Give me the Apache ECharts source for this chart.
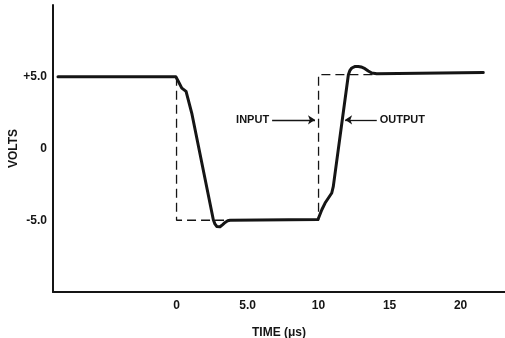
<!DOCTYPE html>
<html style="height: 100%">
<head>
<meta charset="utf-8">
<script src="https://cdn.jsdelivr.net/npm/echarts@6/dist/echarts.min.js"></script>
</head>
<body style="height: 100%; margin: 0; background: #fff;">
<div id="container" style="width: 505px; height: 338px;"></div>
<script type="text/javascript">
// time (us) / volts
var outputTrace = [
    [-8.35, 5.0], [-0.05, 5.0], [0.13, 4.67], [0.37, 4.21], [0.67, 3.98],
    [1.07, 2.47], [2.59, -4.97], [2.7, -5.25], [2.83, -5.43], [2.95, -5.48],
    [3.06, -5.45], [3.25, -5.3], [3.42, -5.15], [3.6, -5.04], [3.77, -5.0],
    [9.96, -4.95], [10.1, -4.85], [10.23, -4.27], [10.46, -3.8], [10.93, -3.1],
    [11.04, -2.64], [12.1, 5.14], [12.2, 5.42], [12.34, 5.61], [12.55, 5.71],
    [12.8, 5.72], [13.0, 5.68], [13.27, 5.56], [13.5, 5.4], [13.75, 5.26],
    [14.1, 5.21], [21.6, 5.3]
];
var inputTrace = [
    [0, 5.0], [0, -5.0], [10, -5.0], [10, 5.15], [14, 5.15]
];
var xTicks = [0, 5, 10, 15, 20];
var yTicks = [-5, 0, 5];
var xRange = [-8.7, 23.13];
var yRange = [-10, 10];
// annotation arrows: [label, from, to]
var arrows = [
    ['INPUT', [6.73, 2.0], [9.75, 2.0]],
    ['OUTPUT', [14.1, 2.0], [11.87, 2.0]]
];

var ink = '#151515';
var font = '"Liberation Sans", Arial, sans-serif';

var chart = echarts.init(document.getElementById('container'));
var option = {
    animation: false,
    backgroundColor: '#fff',
    grid: { left: 53, right: 0, top: 5, bottom: 46, containLabel: false, outerBoundsMode: 'none' },
    xAxis: {
        type: 'value',
        min: xRange[0],
        max: xRange[1],
        name: 'TIME (μs)',
        nameLocation: 'middle',
        nameGap: 35,
        nameMoveOverlap: false,
        nameTextStyle: { color: ink, fontSize: 12, fontWeight: 'bold', fontFamily: font },
        axisLine: { show: true, onZero: false, lineStyle: { color: ink, width: 2 } },
        axisTick: { show: false },
        splitLine: { show: false },
        axisLabel: {
            customValues: xTicks,
            margin: 8,
            color: ink, fontSize: 12, fontWeight: 'bold', fontFamily: font,
            formatter: function (v) { return v === 5 ? '5.0' : String(v); }
        }
    },
    yAxis: {
        type: 'value',
        min: yRange[0],
        max: yRange[1],
        name: 'VOLTS',
        nameLocation: 'middle',
        nameGap: 33,
        nameMoveOverlap: false,
        nameRotate: 90,
        nameTextStyle: { color: ink, fontSize: 12, fontWeight: 'bold', fontFamily: font },
        axisLine: { show: true, onZero: false, lineStyle: { color: ink, width: 2 } },
        axisTick: { show: false },
        splitLine: { show: false },
        axisLabel: {
            customValues: yTicks,
            margin: 6,
            color: ink, fontSize: 12, fontWeight: 'bold', fontFamily: font,
            formatter: function (v) {
                if (v > 0) return '+' + v.toFixed(1);
                if (v < 0) return v.toFixed(1);
                return '0';
            }
        }
    },
    series: [
        {
            name: 'input',
            type: 'line',
            data: inputTrace,
            showSymbol: false,
            lineStyle: { color: ink, width: 1.3, type: [9, 5] },
            z: 2
        },
        {
            name: 'output',
            type: 'line',
            data: outputTrace,
            showSymbol: false,
            lineStyle: { color: ink, width: 3, join: 'round', cap: 'round' },
            z: 3,
            markLine: {
                silent: true,
                symbol: ['none', 'arrow'],
                symbolSize: 7,
                lineStyle: { color: ink, width: 1.3, type: 'solid' },
                label: {
                    show: true,
                    position: 'start',
                    distance: 3,
                    color: ink, fontSize: 11, fontWeight: 'bold', fontFamily: font,
                    formatter: function (p) { return p.name; }
                },
                data: arrows.map(function (a) {
                    return [{ name: a[0], coord: a[1] }, { coord: a[2] }];
                })
            }
        }
    ]
};
chart.setOption(option);
</script>
</body>
</html>
